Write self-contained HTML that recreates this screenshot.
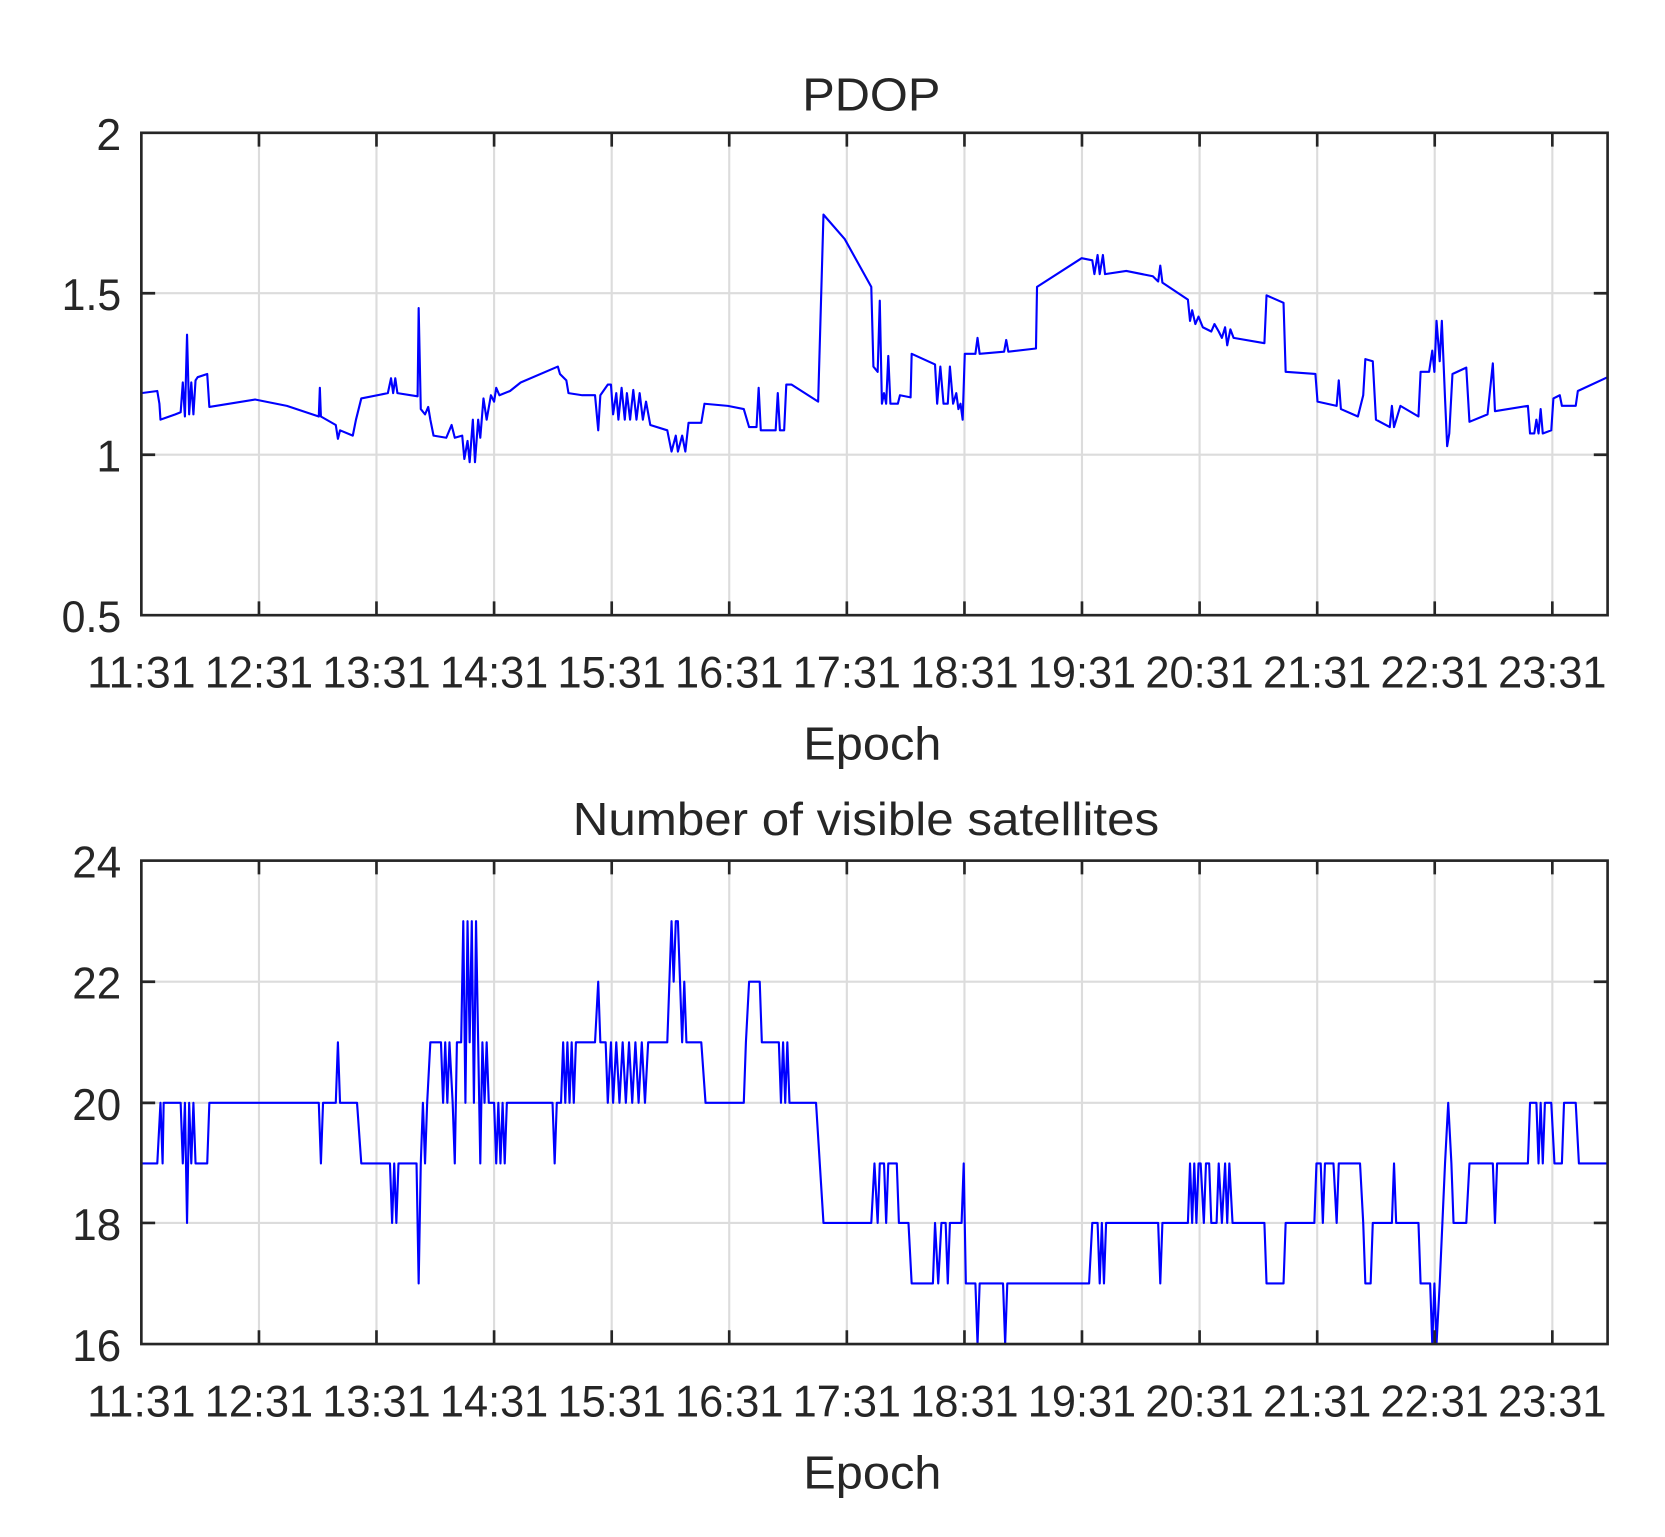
<!DOCTYPE html>
<html><head><meta charset="utf-8"><style>html,body{margin:0;padding:0;background:#fff}svg{display:block}</style></head>
<body>
<svg width="1665" height="1537" viewBox="0 0 1567 1446.6" xmlns="http://www.w3.org/2000/svg" font-family="Liberation Sans, Arial, sans-serif" fill="#262626">
<rect width="1567" height="1447" fill="#fff"/>
<g stroke="#dcdcdc" stroke-width="2">
<path d="M243.7 125V579M354.3 125V579M465 125V579M575.7 125V579M686.3 125V579M797 125V579M907.7 125V579M1018.3 125V579M1129 125V579M1239.7 125V579M1350.3 125V579M1461 125V579M133 276H1513M133 428H1513"/>
<path d="M243.7 810V1265M354.3 810V1265M465 810V1265M575.7 810V1265M686.3 810V1265M797 810V1265M907.7 810V1265M1018.3 810V1265M1129 810V1265M1239.7 810V1265M1350.3 810V1265M1461 810V1265M133 924H1513M133 1038H1513M133 1151H1513"/>
</g>
<polyline fill="none" stroke="#0000ff" stroke-width="2" stroke-linejoin="round" points="133,370 148,368 150,380 151,395 165,390 170,388 172,360 174,392 176,315 178,390 180,360 182,390 184,358 186,355 195,352 197,383 240,376 270,382 300,392 301,365 302,392 316,400 318,413 320,405 332,410 335,395 340,375 365,370 368,356 370,370 372,356 374,370 393,373 394,290 396,385 400,390 403,383 405,395 408,410 420,412 425,400 428,412 435,410 437,432 440,415 442,435 445,395 447,435 450,395 452,412 455,375 458,395 462,372 465,378 467,365 470,372 480,368 490,360 525,345 527,352 533,358 535,370 548,372 560,372 563,405 565,372 572,362 575,362 577,390 580,370 582,395 585,365 588,395 590,370 593,395 596,367 599,395 602,370 605,395 608,378 612,400 628,405 632,425 636,410 638,425 642,410 645,425 648,398 660,398 663,380 685,382 700,385 705,402 712,402 714,365 716,405 730,405 732,370 734,405 738,405 740,362 745,362 770,378 775,202 795,225 820,270 822,345 826,350 828,283 830,380 832,370 834,380 836,335 838,380 845,380 847,372 857,374 858,333 880,343 882,380 885,345 888,380 892,380 894,345 897,380 900,370 902,385 904,380 906,395 908,333 918,333 920,318 922,333 945,331 947,320 949,331 975,328 976,270 1018,243 1028,245 1030,258 1033,240 1035,258 1038,240 1040,258 1060,255 1085,260 1090,265 1092,250 1094,266 1118,282 1120,302 1122,292 1125,305 1128,298 1132,308 1140,312 1143,305 1147,312 1150,318 1153,308 1155,325 1158,310 1161,318 1190,323 1192,278 1208,285 1210,350 1238,352 1240,378 1258,382 1260,358 1262,385 1278,392 1283,372 1285,338 1292,340 1295,395 1308,402 1310,382 1312,402 1318,382 1335,392 1337,350 1345,350 1348,330 1350,350 1352,302 1355,340 1357,302 1360,375 1362,420 1364,408 1367,352 1380,346 1383,397 1400,390 1405,342 1407,387 1438,382 1440,408 1444,408 1446,395 1448,408 1450,385 1452,408 1460,405 1462,375 1468,372 1470,382 1483,382 1485,368 1513,355"/>
<polyline fill="none" stroke="#0000ff" stroke-width="2" stroke-linejoin="round" points="133,1095 148,1095 151,1038 153,1095 154,1038 170,1038 172,1095 174,1038 176,1151 178,1038 180,1095 182,1038 184,1095 195,1095 197,1038 300,1038 302,1095 304,1038 316,1038 318,981 320,1038 336,1038 340,1095 367,1095 369,1151 371,1095 373,1151 375,1095 392,1095 394,1208 396,1095 398,1038 400,1095 402,1038 405,981 415,981 417,1038 419,981 421,1038 423,981 426,1038 428,1095 430,981 434,981 436,867 438,1038 440,867 442,981 444,867 446,1038 448,867 450,981 452,1095 454,981 456,1038 458,981 460,1038 465,1038 467,1095 469,1038 471,1095 473,1038 475,1095 477,1038 480,1038 520,1038 522,1095 524,1038 528,1038 530,981 532,1038 534,981 536,1038 538,981 540,1038 542,981 545,981 560,981 563,924 565,981 570,981 572,1038 575,981 577,1038 580,981 583,1038 586,981 589,1038 592,981 595,1038 598,981 601,1038 604,981 607,1038 610,981 628,981 630,924 632,867 634,924 636,867 638,867 640,924 642,981 644,924 646,981 660,981 664,1038 700,1038 702,981 705,924 715,924 717,981 733,981 735,1038 737,981 739,1038 741,981 743,1038 768,1038 775,1151 820,1151 823,1095 826,1151 828,1095 832,1095 834,1151 836,1095 844,1095 846,1151 855,1151 858,1208 878,1208 880,1151 883,1208 886,1151 890,1151 892,1208 894,1151 905,1151 907,1095 909,1208 918,1208 920,1265 922,1208 944,1208 946,1265 948,1208 1025,1208 1028,1151 1033,1151 1035,1208 1037,1151 1039,1208 1041,1151 1090,1151 1092,1208 1094,1151 1118,1151 1120,1095 1122,1151 1124,1095 1126,1151 1128,1095 1130,1095 1133,1151 1135,1095 1138,1095 1140,1151 1145,1151 1147,1095 1150,1151 1153,1095 1155,1151 1157,1095 1160,1151 1190,1151 1192,1208 1208,1208 1210,1151 1237,1151 1239,1095 1243,1095 1245,1151 1247,1095 1255,1095 1258,1151 1260,1095 1280,1095 1283,1151 1285,1208 1290,1208 1292,1151 1310,1151 1312,1095 1314,1151 1335,1151 1337,1208 1346,1208 1348,1265 1350,1208 1352,1265 1355,1208 1360,1095 1363,1038 1366,1095 1368,1151 1380,1151 1383,1095 1405,1095 1407,1151 1409,1095 1438,1095 1440,1038 1446,1038 1448,1095 1450,1038 1452,1095 1454,1038 1460,1038 1463,1095 1470,1095 1472,1038 1483,1038 1486,1095 1513,1095"/>
<g stroke="#262626" stroke-width="2.5" fill="none">
<rect x="133" y="125" width="1380" height="454"/>
<rect x="133" y="810" width="1380" height="455"/>
<path d="M243.7 579v-13M354.3 579v-13M465 579v-13M575.7 579v-13M686.3 579v-13M797 579v-13M907.7 579v-13M1018.3 579v-13M1129 579v-13M1239.7 579v-13M1350.3 579v-13M1461 579v-13M243.7 125v13M354.3 125v13M465 125v13M575.7 125v13M686.3 125v13M797 125v13M907.7 125v13M1018.3 125v13M1129 125v13M1239.7 125v13M1350.3 125v13M1461 125v13M133 276h13M133 428h13M1513 276h-13M1513 428h-13"/>
<path d="M243.7 1265v-13M354.3 1265v-13M465 1265v-13M575.7 1265v-13M686.3 1265v-13M797 1265v-13M907.7 1265v-13M1018.3 1265v-13M1129 1265v-13M1239.7 1265v-13M1350.3 1265v-13M1461 1265v-13M243.7 810v13M354.3 810v13M465 810v13M575.7 810v13M686.3 810v13M797 810v13M907.7 810v13M1018.3 810v13M1129 810v13M1239.7 810v13M1350.3 810v13M1461 810v13M133 924h13M133 1038h13M133 1151h13M1513 924h-13M1513 1038h-13M1513 1151h-13"/>
</g>
<g font-size="44" text-anchor="middle">
<text x="820" y="104" textLength="130" lengthAdjust="spacingAndGlyphs">PDOP</text>
<text x="821" y="715" textLength="130" lengthAdjust="spacingAndGlyphs">Epoch</text>
<text x="815" y="786" textLength="552" lengthAdjust="spacingAndGlyphs">Number of visible satellites</text>
<text x="821" y="1401" textLength="130" lengthAdjust="spacingAndGlyphs">Epoch</text>
</g>
<g font-size="42" text-anchor="end">
<text x="114" y="141">2</text>
<text x="114" y="292" textLength="56" lengthAdjust="spacingAndGlyphs">1.5</text>
<text x="114" y="444">1</text>
<text x="114" y="595" textLength="56" lengthAdjust="spacingAndGlyphs">0.5</text>
<text x="114" y="826" textLength="46" lengthAdjust="spacingAndGlyphs">24</text>
<text x="114" y="940" textLength="46" lengthAdjust="spacingAndGlyphs">22</text>
<text x="114" y="1054" textLength="46" lengthAdjust="spacingAndGlyphs">20</text>
<text x="114" y="1167" textLength="46" lengthAdjust="spacingAndGlyphs">18</text>
<text x="114" y="1281" textLength="46" lengthAdjust="spacingAndGlyphs">16</text>
</g>
<g font-size="42" text-anchor="middle" lengthAdjust="spacingAndGlyphs">
<text x="133" y="647" textLength="102" lengthAdjust="spacingAndGlyphs">11:31</text>
<text x="243.7" y="647" textLength="102" lengthAdjust="spacingAndGlyphs">12:31</text>
<text x="354.3" y="647" textLength="102" lengthAdjust="spacingAndGlyphs">13:31</text>
<text x="465" y="647" textLength="102" lengthAdjust="spacingAndGlyphs">14:31</text>
<text x="575.7" y="647" textLength="102" lengthAdjust="spacingAndGlyphs">15:31</text>
<text x="686.3" y="647" textLength="102" lengthAdjust="spacingAndGlyphs">16:31</text>
<text x="797" y="647" textLength="102" lengthAdjust="spacingAndGlyphs">17:31</text>
<text x="907.7" y="647" textLength="102" lengthAdjust="spacingAndGlyphs">18:31</text>
<text x="1018.3" y="647" textLength="102" lengthAdjust="spacingAndGlyphs">19:31</text>
<text x="1129" y="647" textLength="102" lengthAdjust="spacingAndGlyphs">20:31</text>
<text x="1239.7" y="647" textLength="102" lengthAdjust="spacingAndGlyphs">21:31</text>
<text x="1350.3" y="647" textLength="102" lengthAdjust="spacingAndGlyphs">22:31</text>
<text x="1461" y="647" textLength="102" lengthAdjust="spacingAndGlyphs">23:31</text>
<text x="133" y="1333" textLength="102" lengthAdjust="spacingAndGlyphs">11:31</text>
<text x="243.7" y="1333" textLength="102" lengthAdjust="spacingAndGlyphs">12:31</text>
<text x="354.3" y="1333" textLength="102" lengthAdjust="spacingAndGlyphs">13:31</text>
<text x="465" y="1333" textLength="102" lengthAdjust="spacingAndGlyphs">14:31</text>
<text x="575.7" y="1333" textLength="102" lengthAdjust="spacingAndGlyphs">15:31</text>
<text x="686.3" y="1333" textLength="102" lengthAdjust="spacingAndGlyphs">16:31</text>
<text x="797" y="1333" textLength="102" lengthAdjust="spacingAndGlyphs">17:31</text>
<text x="907.7" y="1333" textLength="102" lengthAdjust="spacingAndGlyphs">18:31</text>
<text x="1018.3" y="1333" textLength="102" lengthAdjust="spacingAndGlyphs">19:31</text>
<text x="1129" y="1333" textLength="102" lengthAdjust="spacingAndGlyphs">20:31</text>
<text x="1239.7" y="1333" textLength="102" lengthAdjust="spacingAndGlyphs">21:31</text>
<text x="1350.3" y="1333" textLength="102" lengthAdjust="spacingAndGlyphs">22:31</text>
<text x="1461" y="1333" textLength="102" lengthAdjust="spacingAndGlyphs">23:31</text>
</g>
</svg>
</body></html>
